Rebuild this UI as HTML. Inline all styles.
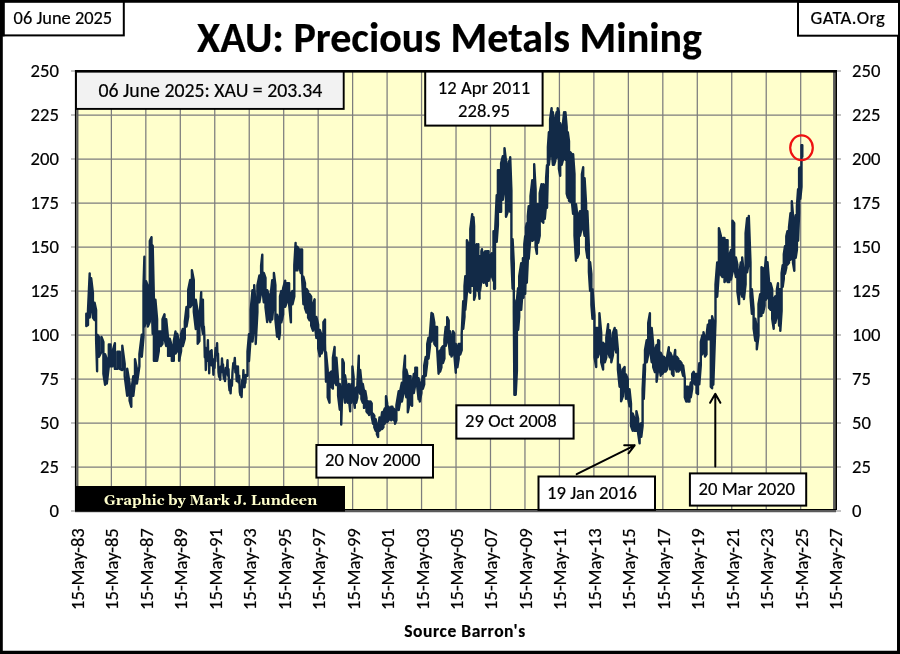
<!DOCTYPE html>
<html><head><meta charset="utf-8"><title>XAU: Precious Metals Mining</title>
<style>
html,body{margin:0;padding:0;background:#fff;}
body{width:900px;height:654px;overflow:hidden;position:relative;}
svg{position:absolute;left:0;top:0;display:block;}
text{font-family:Carlito, 'Liberation Sans', sans-serif;stroke:#000;stroke-width:0.2px;}
</style></head><body>
<svg width="900" height="654" viewBox="0 0 900 654">
<rect x="0" y="0" width="900" height="654" fill="#fff"/>

<rect x="75" y="70" width="761" height="440" fill="#FFFFCC"/>
<path d="M77 115H834 M77 159H834 M77 203H834 M77 247H834 M77 291H834 M77 335H834 M77 379H834 M77 423H834 M77 467H834 M111.37 72V510 M145.83 72V510 M180.30 72V510 M214.76 72V510 M249.23 72V510 M283.70 72V510 M318.16 72V510 M352.63 72V510 M387.09 72V510 M421.56 72V510 M456.03 72V510 M490.49 72V510 M524.96 72V510 M559.42 72V510 M593.89 72V510 M628.36 72V510 M662.82 72V510 M697.29 72V510 M731.75 72V510 M766.22 72V510 M800.69 72V510" stroke="#7d7d7d" stroke-width="1.25" fill="none"/>
<path d="M71 71H76 M836 71H841 M71 115H76 M836 115H841 M71 159H76 M836 159H841 M71 203H76 M836 203H841 M71 247H76 M836 247H841 M71 291H76 M836 291H841 M71 335H76 M836 335H841 M71 379H76 M836 379H841 M71 423H76 M836 423H841 M71 467H76 M836 467H841 M71 511H76 M836 511H841" stroke="#8a8a8a" stroke-width="1.2" fill="none"/>
<path d="M86.3 313.8 L86.3 326.1 L88.0 324.9 L88.0 310.1 L89.7 273.4 L89.7 317.5 L91.2 307.7 L91.2 278.3 L92.9 293.0 L92.9 317.5 L94.6 320.0 L94.6 302.8 L96.1 310.1 L96.1 339.5 L97.1 371.3 L97.1 334.6 L99.0 337.0 L99.0 356.7 L101.5 351.8 L101.5 337.0 L103.4 341.9 L103.4 373.8 L105.1 384.8 L105.1 354.2 L106.8 359.1 L106.8 383.6 L108.8 366.4 L108.8 344.4 L110.5 344.4 L110.5 366.4 L112.5 366.4 L112.5 351.7 L114.9 343.2 L114.9 368.9 L117.4 368.9 L117.4 351.7 L119.8 351.7 L119.8 368.9 L122.3 370.1 L122.3 345.6 L124.7 364.0 L124.7 376.2 L127.2 395.8 L127.2 368.8 L129.6 383.5 L129.6 400.7 L131.3 406.8 L131.3 390.9 L133.3 376.2 L133.3 395.8 L135.0 381.1 L135.0 359.1 L136.9 368.8 L136.9 383.6 L139.4 366.4 L139.4 354.2 L141.8 334.6 L141.8 356.7 L143.5 337.1 L143.5 285.7 L144.4 256.8 L144.4 326.6 L146.1 321.7 L146.1 281.2 L147.8 286.1 L147.8 326.6 L149.8 321.7 L149.8 240.9 L151.5 237.2 L151.5 297.2 L152.7 333.9 L152.7 245.8 L153.9 299.6 L153.9 360.8 L155.4 360.8 L155.4 299.6 L157.1 319.2 L157.1 360.8 L158.8 351.0 L158.8 331.4 L160.8 331.4 L160.8 346.1 L162.5 343.7 L162.5 319.2 L164.5 314.3 L164.5 338.8 L166.2 346.1 L166.2 319.2 L168.1 338.7 L168.1 355.9 L169.8 355.9 L169.8 338.7 L171.8 346.1 L171.8 360.8 L173.8 360.8 L173.8 341.2 L175.5 331.4 L175.5 353.5 L177.2 351.0 L177.2 333.8 L179.1 341.2 L179.1 360.8 L181.1 351.0 L181.1 333.8 L182.8 329.0 L182.8 346.1 L184.8 338.8 L184.8 321.6 L186.5 306.9 L186.5 326.6 L188.2 316.8 L188.2 289.8 L190.2 280.0 L190.2 307.0 L191.9 304.5 L191.9 270.2 L193.8 280.0 L193.8 311.9 L195.8 329.0 L195.8 299.6 L197.7 311.8 L197.7 343.7 L199.4 341.2 L199.4 319.2 L201.2 292.3 L201.2 321.7 L202.9 333.9 L202.9 299.6 L203.2 322.0 L203.2 322.0 L203.6 330.2 L203.6 330.2 L203.9 326.7 L203.9 326.7 L204.3 335.0 L204.3 335.0 L204.8 357.1 L204.8 357.1 L205.3 347.6 L205.3 347.6 L205.8 370.0 L205.8 370.0 L206.5 351.2 L206.5 351.2 L207.2 359.3 L207.2 359.3 L207.9 340.2 L207.9 340.2 L208.3 361.0 L208.3 361.0 L208.8 352.1 L208.8 352.1 L209.2 373.2 L209.2 373.2 L209.5 359.8 L209.5 359.8 L209.9 365.6 L209.9 365.6 L210.2 352.0 L210.2 352.0 L210.7 350.9 L210.7 350.9 L211.1 351.4 L211.1 351.4 L211.6 350.2 L211.6 350.2 L212.2 365.7 L212.2 365.7 L212.8 359.1 L212.8 359.1 L213.4 374.8 L213.4 374.8 L213.9 363.0 L213.9 363.0 L214.5 368.0 L214.5 368.0 L215.0 356.0 L215.0 356.0 L215.7 347.9 L215.7 347.9 L216.4 351.4 L216.4 351.4 L217.1 343.2 L217.1 343.2 L217.6 361.3 L217.6 361.3 L218.0 353.6 L218.0 353.6 L218.5 372.0 L218.5 372.0 L219.1 376.9 L219.1 376.9 L219.6 374.8 L219.6 374.8 L220.2 379.8 L220.2 379.8 L220.8 366.4 L220.8 366.4 L221.4 372.1 L221.4 372.1 L222.0 358.5 L222.0 358.5 L222.5 368.9 L222.5 368.9 L223.0 364.4 L223.0 364.4 L223.5 375.0 L223.5 375.0 L224.0 378.8 L224.0 378.8 L224.5 377.2 L224.5 377.2 L225.0 381.1 L225.0 381.1 L225.8 367.9 L225.8 367.9 L226.7 373.6 L226.7 373.6 L227.5 360.2 L227.5 360.2 L228.0 375.8 L228.0 375.8 L228.5 369.1 L228.5 369.1 L229.0 385.0 L229.0 385.0 L229.5 390.3 L229.5 390.3 L230.1 388.0 L230.1 388.0 L230.6 393.4 L230.6 393.4 L231.2 379.9 L231.2 379.9 L231.9 385.7 L231.9 385.7 L232.5 372.0 L232.5 372.0 L233.3 363.1 L233.3 363.1 L234.0 366.9 L234.0 366.9 L234.8 357.9 L234.8 357.9 L235.4 372.5 L235.4 372.5 L236.1 366.3 L236.1 366.3 L236.7 381.1 L236.7 381.1 L237.1 371.8 L237.1 371.8 L237.5 375.8 L237.5 375.8 L237.9 366.4 L237.9 366.4 L238.5 382.5 L238.5 382.5 L239.2 375.6 L239.2 375.6 L239.8 392.0 L239.8 392.0 L240.4 395.1 L240.4 395.1 L241.0 393.8 L241.0 393.8 L241.6 397.0 L241.6 397.0 L242.2 380.1 L242.2 380.1 L242.8 387.4 L242.8 387.4 L243.4 370.2 L243.4 370.2 L243.8 381.0 L243.8 381.0 L244.2 376.4 L244.2 376.4 L244.6 387.3 L244.6 387.3 L245.0 379.6 L245.0 379.6 L245.4 382.9 L245.4 382.9 L245.8 375.0 L245.8 375.0 L247.5 375.8 L247.5 351.3 L249.0 334.2 L249.0 361.1 L250.7 336.7 L250.7 309.7 L252.5 290.1 L252.5 341.6 L254.2 324.4 L254.2 285.2 L255.7 307.3 L255.7 344.0 L257.4 312.2 L257.4 285.2 L259.4 275.5 L259.4 302.4 L261.1 292.6 L261.1 265.7 L262.3 254.7 L262.3 287.7 L263.8 302.4 L263.8 273.0 L265.5 277.9 L265.5 307.3 L267.2 322.0 L267.2 290.1 L268.7 295.0 L268.7 317.1 L270.4 322.0 L270.4 297.5 L272.2 280.3 L272.2 319.5 L273.9 300.0 L273.9 273.0 L275.4 285.2 L275.4 319.5 L277.1 336.7 L277.1 314.6 L279.1 321.9 L279.1 339.1 L280.0 332.8 L280.0 296.2 L281.3 291.0 L281.3 322.4 L283.1 314.6 L283.1 288.4 L285.2 280.6 L285.2 306.8 L287.0 301.6 L287.0 283.2 L289.1 283.2 L289.1 304.2 L290.9 322.4 L290.9 293.6 L292.5 291.0 L292.5 304.2 L294.3 296.4 L294.3 265.0 L295.6 242.9 L295.6 270.4 L297.4 270.4 L297.4 246.8 L299.0 249.4 L299.0 265.2 L300.8 273.0 L300.8 249.4 L302.1 249.4 L302.1 278.2 L303.4 304.2 L303.4 276.7 L305.0 283.2 L305.0 308.1 L306.5 312.5 L306.5 288.9 L308.1 291.5 L308.1 317.7 L309.6 320.3 L309.6 294.1 L311.2 296.7 L311.2 325.5 L313.0 330.7 L313.0 304.5 L314.6 299.3 L314.6 322.9 L316.4 338.0 L316.4 317.0 L318.2 324.8 L318.2 348.4 L319.8 356.2 L319.8 330.0 L321.6 335.2 L321.6 353.6 L323.4 348.4 L323.4 322.2 L325.0 319.6 L325.0 343.2 L326.0 381.6 L326.0 352.3 L327.7 369.9 L327.7 397.4 L329.5 402.7 L329.5 373.4 L331.2 371.6 L331.2 386.8 L332.9 388.6 L332.9 357.6 L334.6 347.0 L334.6 381.6 L336.4 385.1 L336.4 357.6 L338.1 380.4 L338.1 395.6 L339.8 409.7 L339.8 384.0 L341.2 398.0 L341.2 424.6 L342.4 386.8 L342.4 359.3 L343.8 362.9 L343.8 392.1 L345.0 402.7 L345.0 375.2 L346.4 384.0 L346.4 399.1 L347.6 402.7 L347.6 389.2 L348.9 384.0 L348.9 399.1 L350.2 411.4 L350.2 392.7 L351.5 384.0 L351.5 402.7 L352.4 392.1 L352.4 366.4 L353.6 376.9 L353.6 399.1 L354.8 407.9 L354.8 391.0 L356.2 387.5 L356.2 402.7 L357.4 397.4 L357.4 384.0 L358.8 355.8 L358.8 390.3 L360.2 393.9 L360.2 369.9 L361.4 382.2 L361.4 399.1 L362.8 402.7 L362.8 384.0 L364.0 391.0 L364.0 407.9 L365.3 406.2 L365.3 391.0 L366.5 398.0 L366.5 411.4 L367.9 413.2 L367.9 401.5 L369.1 401.5 L369.1 415.0 L370.5 413.2 L370.5 401.5 L371.7 403.3 L371.7 416.7 L373.1 423.8 L373.1 413.8 L374.3 415.6 L374.3 427.3 L375.7 430.8 L375.7 419.1 L376.9 426.2 L376.9 434.3 L378.1 436.9 L378.1 429.7 L379.5 417.4 L379.5 430.8 L380.9 429.0 L380.9 420.9 L382.1 412.1 L382.1 429.0 L383.4 427.3 L383.4 412.1 L384.7 408.6 L384.7 423.8 L386.0 416.7 L386.0 396.3 L387.2 403.3 L387.2 422.0 L388.6 420.2 L388.6 406.8 L389.8 408.6 L389.8 418.5 L391.2 420.2 L391.2 406.8 L392.4 406.8 L392.4 418.5 L393.8 420.2 L393.8 408.6 L395.0 412.1 L395.0 423.8 L396.4 420.2 L396.4 405.1 L398.7 391.1 L398.7 410.1 L400.2 401.6 L400.2 391.1 L401.9 382.6 L401.9 401.6 L403.5 393.0 L403.5 371.8 L405.0 355.8 L405.0 388.7 L406.3 397.3 L406.3 369.7 L407.8 376.1 L407.8 412.3 L409.1 405.8 L409.1 376.1 L410.6 376.1 L410.6 403.7 L412.1 405.8 L412.1 386.8 L413.8 374.0 L413.8 393.0 L415.3 384.4 L415.3 367.6 L417.0 367.6 L417.0 384.4 L418.6 399.4 L418.6 378.3 L419.8 386.8 L419.8 401.6 L421.4 393.0 L421.4 382.6 L422.9 376.1 L422.9 388.7 L424.2 384.4 L424.2 365.4 L425.7 356.9 L425.7 375.9 L427.2 363.0 L427.2 344.0 L428.5 337.6 L428.5 358.7 L430.0 345.9 L430.0 333.3 L431.5 313.0 L431.5 341.6 L432.8 337.3 L432.8 314.0 L434.3 322.6 L434.3 343.8 L435.8 345.9 L435.8 326.9 L437.1 326.9 L437.1 348.0 L438.6 373.7 L438.6 352.6 L440.1 350.4 L440.1 371.6 L441.4 367.3 L441.4 348.3 L442.9 346.2 L442.9 363.0 L444.4 358.7 L444.4 339.7 L445.7 326.9 L445.7 345.9 L447.2 339.5 L447.2 317.3 L448.7 320.5 L448.7 341.6 L450.0 354.5 L450.0 331.2 L451.5 339.7 L451.5 356.6 L453.0 352.3 L453.0 331.2 L454.3 333.3 L454.3 354.5 L455.8 372.7 L455.8 344.0 L457.4 348.3 L457.4 367.3 L458.7 358.7 L458.7 344.0 L460.2 344.0 L460.2 354.5 L461.7 350.2 L461.7 333.3 L463.2 301.2 L463.2 328.8 L464.5 316.8 L464.5 286.2 L465.3 276.2 L465.3 309.8 L466.9 292.8 L466.9 240.2 L468.6 244.2 L468.6 290.8 L470.3 292.8 L470.3 229.2 L472.2 214.2 L472.2 285.8 L473.5 280.8 L473.5 217.2 L474.1 226.2 L474.1 299.8 L475.2 295.8 L475.2 249.2 L476.6 244.2 L476.6 275.8 L477.5 290.8 L477.5 251.2 L478.3 244.2 L478.3 285.8 L479.5 298.8 L479.5 256.2 L480.0 256.2 L480.0 290.8 L481.4 280.8 L481.4 251.2 L482.0 249.2 L482.0 275.8 L483.7 282.8 L483.7 253.2 L485.2 251.2 L485.2 280.8 L486.9 285.8 L486.9 251.2 L488.6 251.2 L488.6 280.8 L490.1 275.8 L490.1 256.2 L491.8 253.2 L491.8 275.8 L493.5 280.8 L493.5 231.2 L494.1 263.2 L494.1 288.8 L495.0 288.8 L495.0 234.2 L496.7 195.2 L496.7 241.8 L497.9 224.8 L497.9 170.2 L499.6 170.2 L499.6 211.8 L501.1 211.8 L501.1 163.2 L502.8 156.2 L502.8 199.8 L504.5 187.8 L504.5 148.2 L506.0 161.2 L506.0 216.8 L507.7 211.8 L507.7 165.2 L508.9 161.2 L508.9 204.8 L510.2 211.8 L510.2 157.2 L511.4 190.2 L511.4 258.8 L512.6 288.8 L512.6 239.2 L513.8 263.2 L513.8 311.8 L514.4 394.8 L514.4 300.2 L515.7 321.2 L515.7 394.8 L516.9 370.8 L516.9 300.2 L518.1 288.2 L518.1 329.8 L519.2 316.8 L519.2 276.2 L521.2 263.2 L521.2 309.8 L522.9 285.8 L522.9 258.2 L523.5 258.2 L523.5 297.8 L524.3 275.8 L524.3 244.2 L525.2 236.2 L525.2 293.8 L526.0 265.8 L526.0 227.2 L526.8 223.2 L526.8 282.8 L527.8 260.8 L527.8 216.2 L528.7 206.2 L528.7 258.8 L530.5 235.8 L530.5 196.2 L532.3 180.2 L532.3 240.8 L534.2 238.8 L534.2 164.2 L535.6 189.2 L535.6 246.8 L536.9 253.8 L536.9 204.2 L538.2 204.2 L538.2 242.8 L539.7 235.8 L539.7 193.2 L541.5 184.2 L541.5 220.8 L543.3 222.8 L543.3 184.2 L544.8 185.2 L544.8 218.8 L546.1 203.8 L546.1 178.2 L547.0 165.2 L547.0 207.8 L547.9 171.8 L547.9 147.2 L548.9 132.2 L548.9 164.8 L550.1 153.8 L550.1 119.2 L551.6 108.2 L551.6 148.8 L552.9 164.8 L552.9 112.2 L554.0 127.2 L554.0 164.8 L555.3 160.8 L555.3 119.2 L556.6 112.2 L556.6 157.8 L557.7 153.8 L557.7 108.2 L558.9 112.2 L558.9 168.8 L560.2 175.8 L560.2 123.2 L561.7 129.2 L561.7 164.8 L563.0 159.8 L563.0 123.2 L564.1 112.2 L564.1 153.8 L565.4 159.8 L565.4 112.2 L566.7 127.2 L566.7 193.8 L567.8 197.8 L567.8 132.2 L569.0 141.2 L569.0 200.8 L570.3 201.8 L570.3 152.2 L571.8 154.2 L571.8 200.8 L573.1 213.8 L573.1 154.2 L574.5 174.2 L574.5 235.8 L576.0 260.8 L576.0 204.2 L577.3 215.2 L577.3 257.8 L578.8 253.8 L578.8 215.2 L580.0 211.2 L580.0 235.8 L581.9 226.8 L581.9 174.2 L583.2 167.2 L583.2 226.8 L584.6 235.8 L584.6 178.2 L586.1 204.2 L586.1 248.8 L587.4 257.8 L587.4 211.2 L588.9 247.2 L588.9 271.8 L590.1 290.8 L590.1 262.2 L591.4 274.2 L591.4 304.8 L592.5 318.8 L592.5 289.2 L594.5 315.7 L594.5 357.3 L596.2 367.1 L596.2 327.9 L597.7 327.9 L597.7 357.3 L599.4 352.4 L599.4 313.2 L601.2 332.8 L601.2 362.2 L603.1 369.5 L603.1 342.6 L604.9 345.0 L604.9 362.2 L606.3 357.3 L606.3 337.7 L608.1 324.2 L608.1 352.4 L609.8 357.3 L609.8 330.3 L611.3 345.0 L611.3 362.2 L613.0 354.9 L613.0 332.8 L614.7 327.9 L614.7 347.5 L616.2 352.4 L616.2 330.3 L617.9 349.9 L617.9 369.5 L619.6 386.7 L619.6 364.6 L621.1 376.8 L621.1 401.3 L622.8 396.4 L622.8 369.5 L624.6 367.0 L624.6 386.7 L626.0 398.9 L626.0 374.4 L627.8 379.3 L627.8 396.4 L629.5 406.2 L629.5 389.1 L631.0 403.7 L631.0 425.8 L632.7 430.7 L632.7 413.5 L634.4 418.4 L634.4 430.7 L636.4 430.7 L636.4 411.1 L638.1 418.4 L638.1 433.1 L639.6 443.4 L639.6 424.5 L641.3 423.3 L641.3 436.8 L642.6 425.8 L642.6 389.1 L643.8 364.6 L643.8 398.9 L645.0 369.5 L645.0 349.9 L646.7 340.1 L646.7 362.2 L648.2 354.9 L648.2 323.0 L649.9 313.2 L649.9 347.5 L651.7 362.2 L651.7 327.9 L653.2 345.0 L653.2 367.1 L654.9 372.0 L654.9 349.9 L656.6 345.0 L656.6 381.8 L658.1 369.5 L658.1 340.1 L659.2 340.8 L659.2 365.1 L660.7 375.8 L660.7 352.6 L662.4 356.8 L662.4 373.7 L663.9 371.6 L663.9 356.8 L665.6 359.0 L665.6 371.6 L667.1 369.4 L667.1 356.8 L668.8 347.2 L668.8 363.0 L670.3 369.4 L670.3 352.6 L672.0 356.8 L672.0 373.7 L673.5 375.8 L673.5 361.1 L675.2 350.0 L675.2 367.3 L676.7 371.6 L676.7 356.8 L678.4 359.0 L678.4 371.6 L679.9 369.4 L679.9 361.1 L681.6 363.3 L681.6 369.4 L683.1 375.8 L683.1 365.4 L684.8 378.2 L684.8 397.3 L686.3 401.5 L686.3 386.8 L688.0 386.8 L688.0 401.5 L689.5 401.5 L689.5 391.1 L690.8 382.5 L690.8 397.3 L692.2 388.7 L692.2 374.0 L693.7 371.8 L693.7 382.3 L695.0 384.4 L695.0 374.0 L696.5 374.0 L696.5 393.0 L698.0 394.0 L698.0 378.2 L699.3 363.3 L699.3 384.4 L700.8 365.1 L700.8 341.8 L702.3 335.4 L702.3 354.4 L703.5 350.2 L703.5 332.2 L705.0 339.7 L705.0 356.6 L706.5 354.4 L706.5 335.4 L707.8 324.7 L707.8 339.4 L709.3 339.4 L709.3 320.4 L710.8 320.4 L710.8 386.8 L712.1 388.3 L712.1 316.2 L713.3 321.1 L713.3 384.8 L715.5 321.1 L715.5 284.4 L717.2 262.4 L717.2 296.7 L718.9 272.2 L718.9 228.1 L720.8 235.5 L720.8 274.6 L722.5 277.1 L722.5 237.9 L724.5 237.9 L724.5 282.0 L726.2 279.5 L726.2 240.3 L727.6 240.3 L727.6 282.0 L729.3 282.0 L729.3 255.0 L731.0 250.1 L731.0 279.5 L732.5 272.2 L732.5 220.8 L734.2 223.2 L734.2 267.3 L735.9 277.1 L735.9 257.5 L737.4 264.8 L737.4 291.8 L739.1 304.0 L739.1 274.6 L740.8 262.4 L740.8 291.8 L742.2 296.7 L742.2 257.5 L743.9 274.6 L743.9 299.1 L745.6 284.4 L745.6 233.0 L747.1 218.3 L747.1 272.2 L748.8 262.4 L748.8 215.9 L750.5 262.4 L750.5 296.7 L751.9 313.8 L751.9 289.3 L753.6 308.8 L753.6 328.5 L755.3 340.7 L755.3 318.6 L756.8 328.4 L756.8 349.3 L758.5 335.8 L758.5 304.0 L760.2 294.2 L760.2 316.2 L761.5 315.8 L761.5 267.2 L763.1 268.2 L763.1 312.8 L764.6 305.8 L764.6 273.2 L765.9 257.2 L765.9 299.8 L767.5 296.8 L767.5 262.2 L769.0 281.2 L769.0 307.8 L770.6 309.8 L770.6 283.2 L772.2 289.2 L772.2 318.8 L773.7 328.8 L773.7 299.2 L775.3 296.2 L775.3 322.8 L776.9 315.8 L776.9 289.2 L778.0 283.2 L778.0 302.8 L779.1 325.8 L779.1 289.2 L780.3 289.2 L780.3 330.8 L781.6 310.8 L781.6 273.2 L782.7 265.2 L782.7 286.8 L783.8 278.8 L783.8 254.2 L785.0 246.2 L785.0 273.8 L786.3 267.8 L786.3 236.2 L787.4 231.2 L787.4 264.8 L789.0 262.8 L789.0 227.2 L790.5 213.2 L790.5 259.8 L791.8 256.8 L791.8 201.2 L793.0 215.2 L793.0 262.8 L794.3 270.8 L794.3 224.2 L795.7 215.2 L795.7 257.8 L796.9 249.8 L796.9 206.2 L798.1 189.2 L798.1 240.8 L799.1 212.8 L799.1 168.2 L800.3 167.2 L800.3 198.8 L801.5 186.8 L801.5 145.2 L802.3 145.2 L802.3 156.8" stroke="#122a47" stroke-width="2.4" fill="none" stroke-linejoin="round" stroke-linecap="round"/>
<path d="M77.3 72V511 M75 511.2H836" stroke="#5a5a5a" stroke-width="2.3" fill="none"/>
<path d="M834.3 72V511" stroke="#5a5a5a" stroke-width="2.5" fill="none"/>
<path d="M75.5 70V510 M75 509.5H836" stroke="#000" stroke-width="1.2" fill="none"/>
<path d="M836.2 70V510" stroke="#000" stroke-width="1.6" fill="none"/>
<rect x="76.0" y="71.0" width="267.7" height="37.9" fill="#F2F2F2" stroke="#000" stroke-width="1.9"/>
<text x="98.5" y="96.8" font-size="19.8" textLength="223.83" lengthAdjust="spacingAndGlyphs">06 June 2025: XAU = 203.34</text>
<rect x="425.2" y="71.0" width="117.4" height="54.6" fill="#fff" stroke="#000" stroke-width="2"/>
<text x="484" y="93.8" font-size="18.67" text-anchor="middle" textLength="92.28" lengthAdjust="spacingAndGlyphs">12 Apr 2011</text>
<text x="484" y="116.6" font-size="18.67" text-anchor="middle" textLength="52.00" lengthAdjust="spacingAndGlyphs">228.95</text>
<rect x="456.4" y="405.3" width="117.2" height="33.3" fill="#fff" stroke="#000" stroke-width="2"/>
<text x="465" y="426.9" font-size="18.67" textLength="91.67" lengthAdjust="spacingAndGlyphs">29 Oct 2008</text>
<rect x="316.4" y="445.0" width="116.6" height="32.6" fill="#fff" stroke="#000" stroke-width="2"/>
<text x="325" y="465.8" font-size="18.67" textLength="95.41" lengthAdjust="spacingAndGlyphs">20 Nov 2000</text>
<rect x="538.5" y="476.5" width="116.5" height="33.4" fill="#fff" stroke="#000" stroke-width="2"/>
<text x="547" y="499.2" font-size="18.67" textLength="89.86" lengthAdjust="spacingAndGlyphs">19 Jan 2016</text>
<rect x="689.9" y="473.4" width="116.3" height="32.2" fill="#fff" stroke="#000" stroke-width="2"/>
<text x="698.5" y="494.6" font-size="18.67" textLength="96.56" lengthAdjust="spacingAndGlyphs">20 Mar 2020</text>
<rect x="75" y="486" width="270" height="25.6" fill="#000"/>
<text x="104" y="505" font-size="14.6" font-weight="bold" fill="#FFFFCC" style="stroke:none;font-family:Gelasio,'Liberation Serif',serif" textLength="213.23" lengthAdjust="spacingAndGlyphs">Graphic by Mark J. Lundeen</text>
<path d="M576.7 474.2L634.7 445.3 M624.2 445.2L634.7 445.3L628.5 453.3 M715.3 466.5V394 M710.1 402.8L715.3 393.8L720.4 402.8" stroke="#000" stroke-width="2" fill="none" stroke-linecap="round" stroke-linejoin="round"/>
<ellipse cx="801.5" cy="147.7" rx="11.3" ry="12.4" fill="none" stroke="#ee1111" stroke-width="2.2"/>
<text x="59" y="76.5" font-size="18.67" text-anchor="end" textLength="28.38" lengthAdjust="spacingAndGlyphs">250</text>
<text x="852" y="76.5" font-size="18.67" textLength="28.38" lengthAdjust="spacingAndGlyphs">250</text>
<text x="59" y="120.5" font-size="18.67" text-anchor="end" textLength="28.38" lengthAdjust="spacingAndGlyphs">225</text>
<text x="852" y="120.5" font-size="18.67" textLength="28.38" lengthAdjust="spacingAndGlyphs">225</text>
<text x="59" y="164.5" font-size="18.67" text-anchor="end" textLength="28.38" lengthAdjust="spacingAndGlyphs">200</text>
<text x="852" y="164.5" font-size="18.67" textLength="28.38" lengthAdjust="spacingAndGlyphs">200</text>
<text x="59" y="208.5" font-size="18.67" text-anchor="end" textLength="28.38" lengthAdjust="spacingAndGlyphs">175</text>
<text x="852" y="208.5" font-size="18.67" textLength="28.38" lengthAdjust="spacingAndGlyphs">175</text>
<text x="59" y="252.5" font-size="18.67" text-anchor="end" textLength="28.38" lengthAdjust="spacingAndGlyphs">150</text>
<text x="852" y="252.5" font-size="18.67" textLength="28.38" lengthAdjust="spacingAndGlyphs">150</text>
<text x="59" y="296.5" font-size="18.67" text-anchor="end" textLength="28.38" lengthAdjust="spacingAndGlyphs">125</text>
<text x="852" y="296.5" font-size="18.67" textLength="28.38" lengthAdjust="spacingAndGlyphs">125</text>
<text x="59" y="340.5" font-size="18.67" text-anchor="end" textLength="28.38" lengthAdjust="spacingAndGlyphs">100</text>
<text x="852" y="340.5" font-size="18.67" textLength="28.38" lengthAdjust="spacingAndGlyphs">100</text>
<text x="59" y="384.5" font-size="18.67" text-anchor="end" textLength="18.92" lengthAdjust="spacingAndGlyphs">75</text>
<text x="852" y="384.5" font-size="18.67" textLength="18.92" lengthAdjust="spacingAndGlyphs">75</text>
<text x="59" y="428.5" font-size="18.67" text-anchor="end" textLength="18.92" lengthAdjust="spacingAndGlyphs">50</text>
<text x="852" y="428.5" font-size="18.67" textLength="18.92" lengthAdjust="spacingAndGlyphs">50</text>
<text x="59" y="472.5" font-size="18.67" text-anchor="end" textLength="18.92" lengthAdjust="spacingAndGlyphs">25</text>
<text x="852" y="472.5" font-size="18.67" textLength="18.92" lengthAdjust="spacingAndGlyphs">25</text>
<text x="59" y="516.5" font-size="18.67" text-anchor="end" textLength="9.47" lengthAdjust="spacingAndGlyphs">0</text>
<text x="852" y="516.5" font-size="18.67" textLength="9.47" lengthAdjust="spacingAndGlyphs">0</text>
<text transform="translate(83.90,528.2) rotate(-90)" font-size="18.67" text-anchor="end" textLength="81.83" lengthAdjust="spacingAndGlyphs">15-May-83</text>
<text transform="translate(118.37,528.2) rotate(-90)" font-size="18.67" text-anchor="end" textLength="81.83" lengthAdjust="spacingAndGlyphs">15-May-85</text>
<text transform="translate(152.83,528.2) rotate(-90)" font-size="18.67" text-anchor="end" textLength="81.83" lengthAdjust="spacingAndGlyphs">15-May-87</text>
<text transform="translate(187.30,528.2) rotate(-90)" font-size="18.67" text-anchor="end" textLength="81.83" lengthAdjust="spacingAndGlyphs">15-May-89</text>
<text transform="translate(221.76,528.2) rotate(-90)" font-size="18.67" text-anchor="end" textLength="81.83" lengthAdjust="spacingAndGlyphs">15-May-91</text>
<text transform="translate(256.23,528.2) rotate(-90)" font-size="18.67" text-anchor="end" textLength="81.83" lengthAdjust="spacingAndGlyphs">15-May-93</text>
<text transform="translate(290.70,528.2) rotate(-90)" font-size="18.67" text-anchor="end" textLength="81.83" lengthAdjust="spacingAndGlyphs">15-May-95</text>
<text transform="translate(325.16,528.2) rotate(-90)" font-size="18.67" text-anchor="end" textLength="81.83" lengthAdjust="spacingAndGlyphs">15-May-97</text>
<text transform="translate(359.63,528.2) rotate(-90)" font-size="18.67" text-anchor="end" textLength="81.83" lengthAdjust="spacingAndGlyphs">15-May-99</text>
<text transform="translate(394.09,528.2) rotate(-90)" font-size="18.67" text-anchor="end" textLength="81.83" lengthAdjust="spacingAndGlyphs">15-May-01</text>
<text transform="translate(428.56,528.2) rotate(-90)" font-size="18.67" text-anchor="end" textLength="81.83" lengthAdjust="spacingAndGlyphs">15-May-03</text>
<text transform="translate(463.03,528.2) rotate(-90)" font-size="18.67" text-anchor="end" textLength="81.83" lengthAdjust="spacingAndGlyphs">15-May-05</text>
<text transform="translate(497.49,528.2) rotate(-90)" font-size="18.67" text-anchor="end" textLength="81.83" lengthAdjust="spacingAndGlyphs">15-May-07</text>
<text transform="translate(531.96,528.2) rotate(-90)" font-size="18.67" text-anchor="end" textLength="81.83" lengthAdjust="spacingAndGlyphs">15-May-09</text>
<text transform="translate(566.42,528.2) rotate(-90)" font-size="18.67" text-anchor="end" textLength="81.83" lengthAdjust="spacingAndGlyphs">15-May-11</text>
<text transform="translate(600.89,528.2) rotate(-90)" font-size="18.67" text-anchor="end" textLength="81.83" lengthAdjust="spacingAndGlyphs">15-May-13</text>
<text transform="translate(635.36,528.2) rotate(-90)" font-size="18.67" text-anchor="end" textLength="81.83" lengthAdjust="spacingAndGlyphs">15-May-15</text>
<text transform="translate(669.82,528.2) rotate(-90)" font-size="18.67" text-anchor="end" textLength="81.83" lengthAdjust="spacingAndGlyphs">15-May-17</text>
<text transform="translate(704.29,528.2) rotate(-90)" font-size="18.67" text-anchor="end" textLength="81.83" lengthAdjust="spacingAndGlyphs">15-May-19</text>
<text transform="translate(738.75,528.2) rotate(-90)" font-size="18.67" text-anchor="end" textLength="81.83" lengthAdjust="spacingAndGlyphs">15-May-21</text>
<text transform="translate(773.22,528.2) rotate(-90)" font-size="18.67" text-anchor="end" textLength="81.83" lengthAdjust="spacingAndGlyphs">15-May-23</text>
<text transform="translate(807.69,528.2) rotate(-90)" font-size="18.67" text-anchor="end" textLength="81.83" lengthAdjust="spacingAndGlyphs">15-May-25</text>
<text transform="translate(842.15,528.2) rotate(-90)" font-size="18.67" text-anchor="end" textLength="81.83" lengthAdjust="spacingAndGlyphs">15-May-27</text>
<text x="465" y="636.6" font-size="17.5" font-weight="bold" text-anchor="middle" letter-spacing="0.55" textLength="121.38" lengthAdjust="spacingAndGlyphs">Source Barron's</text>
<text x="449.5" y="51.5" font-size="42" font-weight="bold" text-anchor="middle" textLength="504.94" lengthAdjust="spacingAndGlyphs">XAU: Precious Metals Mining</text>
<path d="M0 0H900V654H0Z M2.8 2.75V650.7H897V2.75Z" fill="#000" fill-rule="evenodd"/>
<rect x="3.6" y="1.8" width="120.2" height="33.6" fill="#fff" stroke="#000" stroke-width="2"/>
<rect x="0" y="0" width="4.5" height="36.4" fill="#000"/>
<text x="13.6" y="24.4" font-size="18.4" textLength="98.59" lengthAdjust="spacingAndGlyphs">06 June 2025</text>
<rect x="798.0" y="1.8" width="101.0" height="33.9" fill="#fff" stroke="#000" stroke-width="2"/>
<rect x="797" y="0" width="103" height="2.75" fill="#000"/>
<text x="810.5" y="23.5" font-size="18.67" letter-spacing="0.4" textLength="74.75" lengthAdjust="spacingAndGlyphs">GATA.Org</text>
<rect x="75" y="70" width="761" height="2.6" fill="#000"/>
</svg>
</body></html>
